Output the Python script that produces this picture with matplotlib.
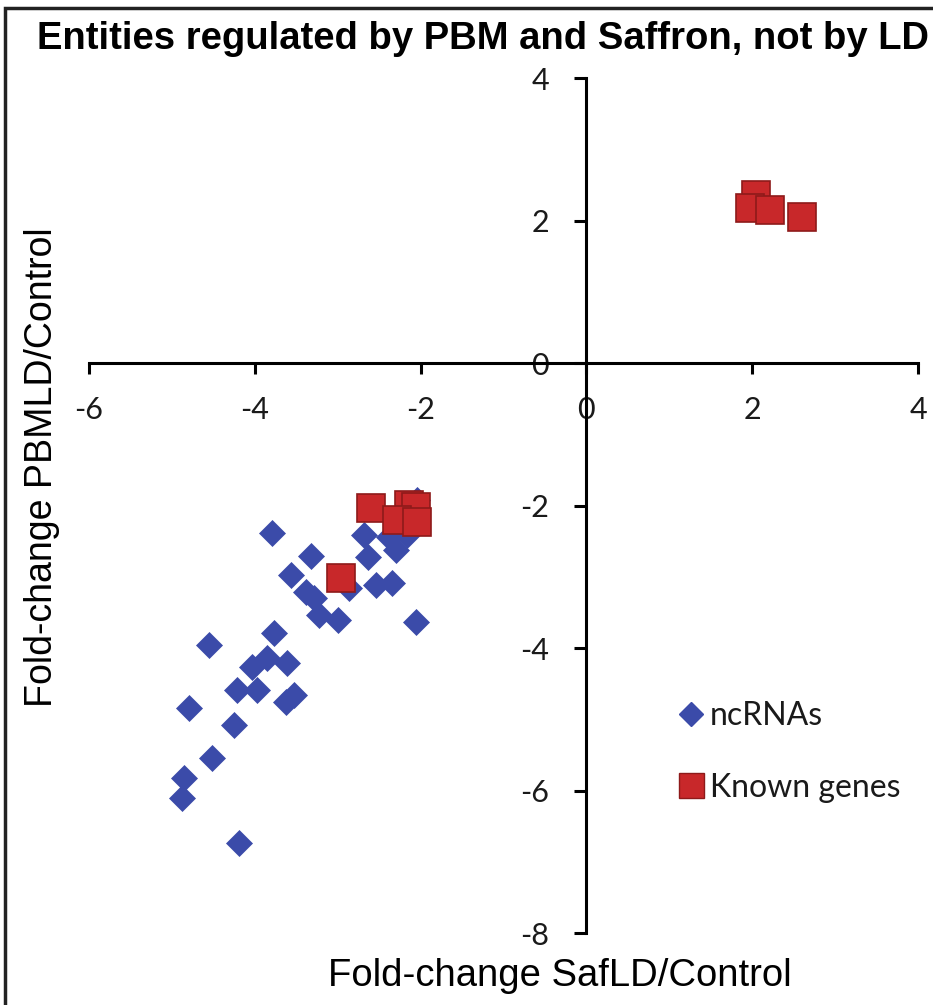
import matplotlib
matplotlib.use('Agg')
from matplotlib import pyplot as plt
from matplotlib.patches import Rectangle
from matplotlib.lines import Line2D

# ncRNAs (diamonds)
nc_x = [-3.79, -3.32, -3.56, -3.38, -3.28, -3.22, -3.00, -2.86, -2.68, -2.64,
        -2.54, -2.34, -2.38, -2.30, -2.17, -2.05, -2.04, -2.10,
        -4.55, -3.77, -3.85, -4.03, -3.61, -4.21, -3.97, -3.62, -3.53,
        -4.79, -4.25, -4.52, -4.86, -4.88, -4.19]
nc_y = [-2.39, -2.71, -2.98, -3.21, -3.30, -3.54, -3.61, -3.16, -2.41, -2.72,
        -3.12, -3.09, -2.44, -2.62, -2.41, -3.64, -1.92, -2.25,
        -3.96, -3.79, -4.14, -4.27, -4.21, -4.59, -4.59, -4.76, -4.66,
        -4.84, -5.08, -5.54, -5.82, -6.11, -6.74]

# known genes (squares)
kg_x = [-2.96, -2.60, -2.14, -2.05, -2.28, -2.04, 2.05, 1.97, 2.21, 2.60]
kg_y = [-3.02, -2.04, -1.99, -2.02, -2.20, -2.23, 2.36, 2.18, 2.15, 2.05]

xticks = [-6, -4, -2, 0, 2, 4]
yticks = [-8, -6, -4, -2, 0, 2, 4]

blue = '#3B4BA9'
red = '#C8282A'
red_edge = '#8E1A1A'

fig = plt.figure(figsize=(9.33, 10.05), dpi=100)
ax = fig.add_axes([89/933, 1-933/1005, (918-89)/933, (933-78)/1005])

ax.plot(nc_x, nc_y, 'D', color=blue, markersize=13.5, markeredgewidth=0.5,
        markeredgecolor=blue, linestyle='none', zorder=3)
ax.plot(kg_x, kg_y, 's', color=red, markersize=20, markeredgewidth=1.2,
        markeredgecolor=red_edge, linestyle='none', zorder=4)

ax.set_xlim(-6, 4)
ax.set_ylim(-8, 4)
ax.spines['left'].set_position(('data', 0))
ax.spines['bottom'].set_position(('data', 0))
ax.spines['top'].set_visible(False)
ax.spines['right'].set_visible(False)
for s in ['left', 'bottom']:
    ax.spines[s].set_linewidth(2.2)
ax.set_xticks(xticks)
ax.set_yticks(yticks)
ax.set_xticklabels([str(v) for v in xticks])
ax.set_yticklabels([str(v) for v in yticks])
ax.tick_params(axis='x', direction='out', length=8, width=2.2, pad=16,
               labelsize=22, labelcolor='#1a1a1a')
ax.tick_params(axis='y', direction='out', length=9, width=2.2, pad=18,
               labelsize=22, labelcolor='#1a1a1a')
for lab in ax.get_xticklabels() + ax.get_yticklabels():
    lab.set_family('Lato')
ax.patch.set_alpha(0)

# legend
h1 = Line2D([], [], marker='D', color=blue, markersize=12, linestyle='none')
h2 = Line2D([], [], marker='s', color=red, markersize=18, linestyle='none',
            markeredgecolor=red_edge)
leg = ax.legend([h1, h2], ['ncRNAs', 'Known genes'], loc='upper left',
                bbox_to_anchor=(0.68, 0.305), frameon=False, handlelength=0.6,
                handletextpad=0.3, labelspacing=1.3,
                prop={'family': 'Lato', 'size': 23})
for t in leg.get_texts():
    t.set_color('#1a1a1a')

fig.text(0.518, 0.961, 'Entities regulated by PBM and Saffron, not by LD',
         ha='center', va='center', fontsize=27.5, fontweight='bold',
         family='Liberation Sans')
fig.text(0.6, 0.029, 'Fold-change SafLD/Control', ha='center', va='center',
         fontsize=27.5, family='Liberation Sans')
fig.text(0.045, 0.535, 'Fold-change PBMLD/Control', ha='center', va='center',
         rotation=90, fontsize=27, family='Liberation Sans')

# outer frame
fig.patches.append(Rectangle((5/933, -0.05), 1.1, 1.042,
                             transform=fig.transFigure, fill=False,
                             edgecolor='#222222', linewidth=2.5))

fig.savefig('out.png', dpi=100)
